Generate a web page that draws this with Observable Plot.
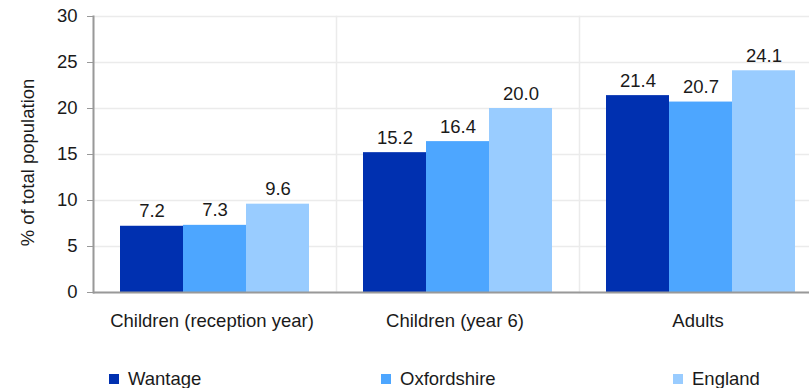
<!DOCTYPE html>
<html>
<head>
<meta charset="utf-8">
<script src="https://cdn.jsdelivr.net/npm/d3@7"></script>
<script src="https://cdn.jsdelivr.net/npm/@observablehq/plot@0.6"></script>
<style>
  html, body { margin: 0; padding: 0; background: #fff; overflow: hidden; }
  body { font-family: "Liberation Sans", Arial, sans-serif; width: 809px; }
  #legend { position: relative; width: 809px; height: 43px; font-size: 18.5px; color: #1a1a1a; }
  #legend .item { position: absolute; top: 24px; display: flex; align-items: center; height: 20px; white-space: nowrap; }
  #legend .sw { width: 10px; height: 10px; margin-right: 9px; }
</style>
</head>
<body>
<div id="chart"></div>
<div id="legend"></div>
<script>
const categories = ["Children (reception year)", "Children (year 6)", "Adults"];
const seriesNames = ["Wantage", "Oxfordshire", "England"];
const wantage = [7.2, 15.2, 21.4];
const oxfordshire = [7.3, 16.4, 20.7];
const england = [9.6, 20.0, 24.1];
const yTicks = [0, 5, 10, 15, 20, 25, 30];
const yLabel = "% of total population";
const colors = ["#0030b0", "#4da6ff", "#99ccff"];

const seriesValues = [wantage, oxfordshire, england];
const data = categories.flatMap((c, i) =>
  seriesNames.map((s, j) => ({category: c, series: s, value: seriesValues[j][i]}))
);

const FS = 18.5;
const chart = Plot.plot({
  width: 809,
  height: 345,
  marginTop: 16,
  marginLeft: 93,
  marginRight: -13,
  marginBottom: 53,
  style: {fontFamily: "Liberation Sans, Arial, sans-serif", fontSize: FS + "px", color: "#1a1a1a", overflow: "hidden", background: "#fff"},
  fx: {domain: categories, padding: 0, round: false, label: null},
  x: {domain: seriesNames, paddingInner: 0, paddingOuter: 0.4286, round: false, axis: null},
  y: {domain: [0, 30]},
  color: {domain: seriesNames, range: colors},
  marks: [
    Plot.gridY(yTicks, {stroke: "#ebebeb", strokeOpacity: 1, strokeWidth: 1.5}),
    Plot.frame({anchor: "left", stroke: "#ebebeb", strokeWidth: 1.5}),
    Plot.barY(data, {fx: "category", x: "series", y: "value", fill: "series"}),
    Plot.text(data, {fx: "category", x: "series", y: "value", text: d => d.value.toFixed(1), lineAnchor: "bottom", dy: -9, fill: "#1a1a1a", fontSize: FS}),
    Plot.ruleY([0], {stroke: "#999", strokeWidth: 2}),
    Plot.frame({anchor: "left", stroke: "#999", strokeWidth: 2, facetAnchor: "left"}),
    Plot.axisY(yTicks, {anchor: "left", tickSize: 6, tickPadding: 10, stroke: "#999", fill: "#1a1a1a", fontSize: FS, label: null}),
    Plot.text([yLabel], {text: d => d, frameAnchor: "left", rotate: -90, textAnchor: "middle", lineAnchor: "middle", dx: -65, dy: 8, fill: "#1a1a1a", fontSize: FS, facetAnchor: "left"}),
    Plot.axisFx({anchor: "bottom", tickSize: 0, tickPadding: 21, dx: -3, fontSize: FS, fill: "#1a1a1a", label: null})
  ]
});
document.getElementById("chart").appendChild(chart);

const legendLefts = [109, 381, 673];
const legend = document.getElementById("legend");
seriesNames.forEach((s, i) => {
  const item = document.createElement("div");
  item.className = "item";
  item.style.left = legendLefts[i] + "px";
  const sw = document.createElement("span");
  sw.className = "sw";
  sw.style.background = colors[i];
  const t = document.createElement("span");
  t.textContent = s;
  item.appendChild(sw);
  item.appendChild(t);
  legend.appendChild(item);
});
</script>
</body>
</html>
